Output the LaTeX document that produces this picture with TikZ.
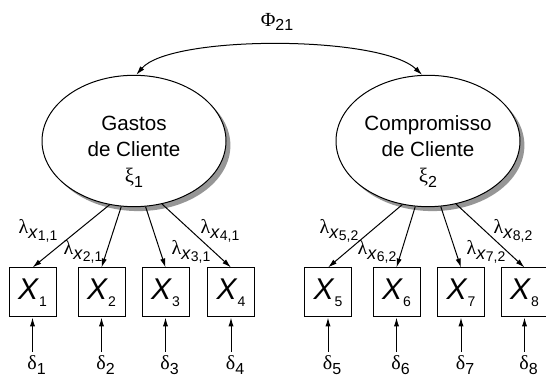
\documentclass[tikz,border=0pt]{standalone}
\usepackage{fontspec}
\setmainfont{Liberation Sans}
\newfontfamily\grk{Liberation Serif}
\usetikzlibrary{arrows.meta,shapes.geometric,shadows}
\definecolor{ShadowGray}{RGB}{150,150,150}
\newcommand{\gr}[1]{{\grk #1}}
\newcommand{\lowsub}[2][\footnotesize]{\raisebox{-0.45ex}{#1#2}}
\newcommand{\load}[2]{\gr{λ}\lowsub[\small]{\textit{x}\raisebox{-0.2ex}{\scriptsize #1,#2}}}

\begin{document}
\begin{tikzpicture}[x=0.5pt,y=-0.5pt,line width=0.5pt,
  >={Latex[length=4.5pt,width=2.6pt]},
  latent/.style={ellipse,draw,fill=white,minimum width=92pt,minimum height=57pt,
    inner sep=0pt,align=center,font=\fontsize{10.3}{13}\selectfont,
    drop shadow={shadow xshift=2.2pt,shadow yshift=-2.2pt,fill=ShadowGray,opacity=1}},
  obs/.style={rectangle,draw,minimum width=23.5pt,minimum height=24.5pt,inner sep=0pt,
    font=\fontsize{15}{15}\selectfont},
  err/.style={inner sep=0pt,anchor=base,font=\fontsize{10}{10}\selectfont},
  lab/.style={inner sep=0pt,font=\fontsize{10}{10}\selectfont}]
  \useasboundingbox (0,0) rectangle (546,378);

  % latent variables
  \node [latent] (xi1) at (134,141) {\rule{0pt}{18pt}Gastos\\de Cliente\\\gr{ξ}\lowsub{1}};
  \node [latent] (xi2) at (428,141) {\rule{0pt}{18pt}Compromisso\\de Cliente\\\gr{ξ}\lowsub{2}};
  \node [lab] (phi) at (277,22) {\gr{Φ}\lowsub{21}};
  \draw [<->] (xi1.88) .. controls +(34,-40) and +(-42,-40) .. (xi2.95);

  % indicators
  \node [obs] (x1) at (32.5,292.5) {\textit{X}\lowsub[\scriptsize]{1}};
  \node [obs] (x2) at (101.5,292.5) {\textit{X}\lowsub[\scriptsize]{2}};
  \node [obs] (x3) at (165.5,292.5) {\textit{X}\lowsub[\scriptsize]{3}};
  \node [obs] (x4) at (231,292.5) {\textit{X}\lowsub[\scriptsize]{4}};
  \node [obs] (x5) at (328,292.5) {\textit{X}\lowsub[\scriptsize]{5}};
  \node [obs] (x6) at (396.5,292.5) {\textit{X}\lowsub[\scriptsize]{6}};
  \node [obs] (x7) at (461,292.5) {\textit{X}\lowsub[\scriptsize]{7}};
  \node [obs] (x8) at (524.5,292.5) {\textit{X}\lowsub[\scriptsize]{8}};

  % loadings
  \draw [->] (xi1.249) -- (x1.north);
  \draw [->] (xi1.259) -- (x2.north);
  \draw [->] (xi1.280) -- (x3.north);
  \draw [->] (xi1.294) -- (x4.north);
  \draw [->] (xi2.248) -- (x5.north);
  \draw [->] (xi2.259) -- (x6.north);
  \draw [->] (xi2.281) -- (x7.north);
  \draw [->] (xi2.294) -- (x8.north);
  \node [lab] (l1) at (38,231) {\load{1}{1}};
  \node [lab] (l2) at (83,252) {\load{2}{1}};
  \node [lab] (l3) at (191,252) {\load{3}{1}};
  \node [lab] (l4) at (220,231) {\load{4}{1}};
  \node [lab] (l5) at (339,231) {\load{5}{2}};
  \node [lab] (l6) at (377,252) {\load{6}{2}};
  \node [lab] (l7) at (486,252) {\load{7}{2}};
  \node [lab] (l8) at (513,231) {\load{8}{2}};

  % errors
  \node [err] (d1) at (36.5,370) {\gr{δ}\lowsub{1}};
  \node [err] (d2) at (105.5,370) {\gr{δ}\lowsub{2}};
  \node [err] (d3) at (169.5,370) {\gr{δ}\lowsub{3}};
  \node [err] (d4) at (235,370) {\gr{δ}\lowsub{4}};
  \node [err] (d5) at (332,370) {\gr{δ}\lowsub{5}};
  \node [err] (d6) at (400.5,370) {\gr{δ}\lowsub{6}};
  \node [err] (d7) at (465,370) {\gr{δ}\lowsub{7}};
  \node [err] (d8) at (528.5,370) {\gr{δ}\lowsub{8}};
  \draw [->, shorten <=2pt] (d1.north -| x1.south) -- (x1.south);
  \draw [->, shorten <=2pt] (d2.north -| x2.south) -- (x2.south);
  \draw [->, shorten <=2pt] (d3.north -| x3.south) -- (x3.south);
  \draw [->, shorten <=2pt] (d4.north -| x4.south) -- (x4.south);
  \draw [->, shorten <=2pt] (d5.north -| x5.south) -- (x5.south);
  \draw [->, shorten <=2pt] (d6.north -| x6.south) -- (x6.south);
  \draw [->, shorten <=2pt] (d7.north -| x7.south) -- (x7.south);
  \draw [->, shorten <=2pt] (d8.north -| x8.south) -- (x8.south);
\end{tikzpicture}
\end{document}
